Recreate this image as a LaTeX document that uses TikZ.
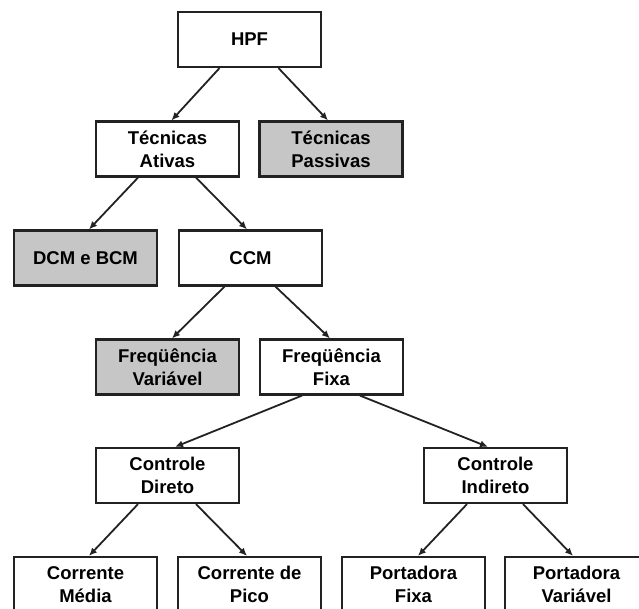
\documentclass[tikz,border=0pt]{standalone}
\usepackage{fontspec}
\setmainfont{Liberation Sans}
\usetikzlibrary{arrows.meta}
\definecolor{boxline}{HTML}{222222}
\definecolor{boxgray}{HTML}{C6C6C6}
\begin{document}
\begin{tikzpicture}[x=1pt,y=-1pt,
  box/.style={draw=boxline,line width=2.2pt,fill=white,minimum width=143pt,minimum height=55pt,
    inner sep=0pt,align=center,font=\fontsize{18.5}{23}\selectfont\bfseries,text=black},
  graybox/.style={box,fill=boxgray},
  conn/.style={draw=boxline,line width=1.8pt,-{Latex[length=8pt,width=7pt]}}]
\useasboundingbox (0,0) rectangle (639,608);
\node[box] (hpf) at (249.5,39.5) {HPF};
\node[box] (ta) at (167.5,149) {Técnicas\\Ativas};
\node[graybox] (tp) at (331,149) {Técnicas\\Passivas};
\node[graybox] (dcm) at (85.5,258) {DCM e BCM};
\node[box] (ccm) at (250.5,258) {CCM};
\node[graybox] (fv) at (167.5,367) {Freqüência\\Variável};
\node[box] (ff) at (331.5,367) {Freqüência\\Fixa};
\node[box] (cd) at (167.5,475.5) {Controle\\Direto};
\node[box] (ci) at (495.5,475.5) {Controle\\Indireto};
\node[box] (cm) at (85.5,584.5) {Corrente\\Média};
\node[box] (cp) at (249.5,584.5) {Corrente de\\Pico};
\node[box] (pf) at (413.5,584.5) {Portadora\\Fixa};
\node[box] (pv) at (576.5,584.5) {Portadora\\Variável};
\draw[conn] ([xshift=-30pt]hpf.south) -- ([xshift=4pt]ta.north);
\draw[conn] ([xshift=29pt]hpf.south) -- ([xshift=-3pt]tp.north);
\draw[conn] ([xshift=-29.5pt]ta.south) -- ([xshift=3.5pt]dcm.north);
\draw[conn] ([xshift=28.5pt]ta.south) -- ([xshift=-3.5pt]ccm.north);
\draw[conn] ([xshift=-26pt]ccm.south) -- ([xshift=4.5pt]fv.north);
\draw[conn] ([xshift=25pt]ccm.south) -- ([xshift=-1.5pt]ff.north);
\draw[conn] ([xshift=-29.5pt]ff.south) -- ([xshift=7.5pt]cd.north);
\draw[conn] ([xshift=28.5pt]ff.south) -- ([xshift=-7.5pt]ci.north);
\draw[conn] ([xshift=-29.5pt]cd.south) -- ([xshift=3.5pt]cm.north);
\draw[conn] ([xshift=28.5pt]cd.south) -- ([xshift=-2.5pt]cp.north);
\draw[conn] ([xshift=-28.5pt]ci.south) -- ([xshift=4.5pt]pf.north);
\draw[conn] ([xshift=27.5pt]ci.south) -- ([xshift=-3.5pt]pv.north);
\end{tikzpicture}
\end{document}
